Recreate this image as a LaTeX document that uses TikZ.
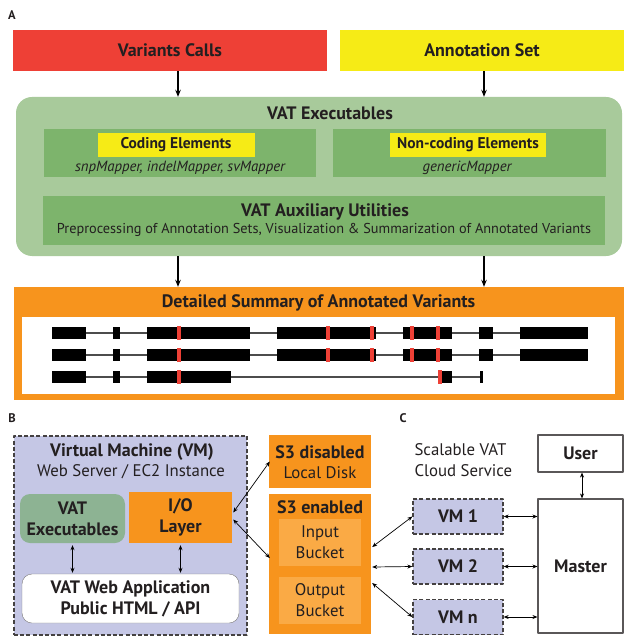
\documentclass[tikz,border=0pt]{standalone}
\usepackage{fontspec}
\setmainfont{PT Sans}
\usetikzlibrary{arrows.meta,calc}
\definecolor{vred}{HTML}{EE4036}
\definecolor{vyellow}{HTML}{F6EB16}
\definecolor{glight}{HTML}{A8CA9B}
\definecolor{gdark}{HTML}{7DB46C}
\definecolor{vorange}{HTML}{F7941D}
\definecolor{vorangel}{HTML}{FAAA45}
\definecolor{lav}{HTML}{C5C7E5}
\definecolor{ggray}{HTML}{8DB393}
\definecolor{ink}{HTML}{231F20}
\begin{document}
\begin{tikzpicture}[x=1pt,y=-1pt,>={Stealth[length=7pt,width=5.5pt]}, line join=round, text=ink,
  wh/.style 2 args={minimum width=#1pt,minimum height=#2pt,inner sep=0pt,align=center},
  bigb/.style={font=\fontsize{18}{21}\selectfont\bfseries},
  bigr/.style={font=\fontsize{16.8}{21}\selectfont},
  midb/.style={font=\fontsize{15.5}{17}\selectfont\bfseries},
  panel/.style={font=\fontsize{12.5}{14}\selectfont\bfseries},
  vmbox/.style={fill=lav,draw=ink!85,dashed,line width=1.3pt,dash pattern=on 4pt off 2.2pt},
  plain/.style={draw=ink!75,line width=1.1pt},
  dbl/.style={{Stealth[length=5pt,width=4pt]}-{Stealth[length=5pt,width=4pt]},line width=.7pt}]
\useasboundingbox (0,0) rectangle (624,636);
% A
\node[panel] (lblA) at (12,15) {A};
\node[wh={314}{41},fill=vred,bigb] (varcalls) at (170,50.5) {Variants Calls};
\node[wh={284}{41},fill=vyellow,bigb] (annot) at (482,50.5) {Annotation Set};
\node[wh={606}{159},fill=glight,rounded corners=16pt] (vatexe) at (319,176.5) {};
\node[bigb] (vattitle) at (330,113) {VAT Executables};
\node[wh={272}{48},fill=gdark] (coding) at (180,153) {};
\node[wh={157}{24},fill=vyellow,midb] (codinghl) at (176,145) {Coding Elements};
\node[font=\fontsize{14.8}{17}\selectfont\itshape] (codingsub) at (180,168) {snpMapper, indelMapper, svMapper};
\node[wh={273}{48},fill=gdark] (noncoding) at (469.5,153) {};
\node[wh={156}{24},fill=vyellow,midb] (noncodinghl) at (468,145) {Non-coding Elements};
\node[font=\fontsize{14.8}{17}\selectfont\itshape] (noncodingsub) at (467,168) {genericMapper};
\node[wh={562}{49},fill=gdark] (aux) at (324,220.5) {};
\node[bigb] (auxtitle) at (325,212) {VAT Auxiliary Utilities};
\node[font=\fontsize{14.3}{16}\selectfont] (auxsub) at (324,230) {Preprocessing of Annotation Sets, Visualization \& Summarization of Annotated Variants};
\node[wh={610}{113},fill=vorange] (summary) at (319,343.5) {};
\node[bigb] (sumtitle) at (318.5,303) {Detailed Summary of Annotated Variants};
\node[wh={593}{77},fill=white] (tracks) at (318.5,355.5) {};
\draw[->,line width=1.3pt] ([xshift=8pt]varcalls.south) -- ([xshift=8pt]varcalls.south |- vatexe.north);
\draw[->,line width=1.3pt] ([xshift=2pt]annot.south) -- ([xshift=2pt]annot.south |- vatexe.north);
\draw[->,line width=1.3pt] ([xshift=8pt]varcalls.south |- vatexe.south) -- ([xshift=8pt]varcalls.south |- summary.north);
\draw[->,line width=1.3pt] ([xshift=2pt]annot.south |- vatexe.south) -- ([xshift=2pt]annot.south |- summary.north);
% gene tracks
\foreach \r in {333,355}{
  \draw[black!70,line width=1.1pt] (52,\r) -- (588,\r);
  \foreach \a/\b in {52/86,113/120,147/250,277/376,403/452,479/493,520/588}
    \fill (\a,\r-6) rectangle (\b,\r+6);
  \foreach \m in {179,328,372,412,438}
    \fill[vred] (\m-2,\r-7) rectangle (\m+2,\r+7);
}
\draw[black!70,line width=1.1pt] (52,377) -- (481,377);
\foreach \a/\b in {52/86,113/120,147/231,438/452,480/482.5}
  \fill (\a,371) rectangle (\b,383);
\foreach \m in {179,440}
  \fill[vred] (\m-2,370) rectangle (\m+2,384);
% B
\node[panel] (lblB) at (12,418) {B};
\node[wh={233}{199},vmbox] (vm) at (130.5,535.5) {};
\node[bigb] (vmtitle) at (132,452) {Virtual Machine (VM)};
\node[bigr] (vmsub) at (131,472) {Web Server / EC2 Instance};
\node[wh={105}{49},fill=ggray,rounded corners=10pt,bigb] (vmexe) at (72.5,518.5) {VAT\\Executables};
\node[wh={103}{51},fill=vorange,bigb] (iolayer) at (180.5,517.5) {I/O\\Layer};
\node[wh={217}{49},fill=white,draw=ink!60,rounded corners=10pt,bigb] (webapp) at (130.5,598.5) {VAT Web Application\\Public HTML / API};
\draw[dbl] ([yshift=-2pt]vmexe.south) -- ([yshift=1pt]vmexe.south |- webapp.north);
\draw[dbl] ([yshift=-2pt]iolayer.south) -- ([yshift=1pt]iolayer.south |- webapp.north);
\node[wh={102}{53},fill=vorange] (s3dis) at (320,461.5) {};
\node[bigb] (s3distitle) at (320,452) {S3 disabled};
\node[bigr] (s3dissub) at (320,473) {Local Disk};
\node[wh={102}{140},fill=vorange] (s3en) at (320,564) {};
\node[bigb] (s3entitle) at (320,507) {S3 enabled};
\node[wh={82}{47},fill=vorangel,bigr] (inbucket) at (320,542.5) {Input\\Bucket};
\node[wh={82}{47},fill=vorangel,bigr] (outbucket) at (320,600.5) {Output\\Bucket};
\draw[dbl] ($(iolayer.east)+(1,-5)$) -- ($(s3dis.west)+(1,0)$);
\draw[dbl] ($(iolayer.east)+(1,2)$) -- ($(s3en.west)+(1,-6)$);
% C
\node[panel] (lblC) at (403,418) {C};
\node[bigr,anchor=west,align=left] (cloud) at (411,460) {Scalable VAT\\Cloud Service};
\node[wh={85}{37},fill=white,plain,bigb] (user) at (580.5,453.5) {User};
\node[wh={85}{134},fill=white,plain,bigb] (master) at (580.5,566) {Master};
\node[wh={90}{35},vmbox,bigb] (vm1) at (458,516.5) {VM 1};
\node[wh={90}{35},vmbox,bigb] (vm2) at (458,566.5) {VM 2};
\node[wh={90}{35},vmbox,bigb] (vmn) at (458,617) {VM n};
\draw[dbl] ([xshift=1.5pt]user.south) -- ([xshift=1.5pt]user.south |- master.north);
\foreach \v in {vm1,vm2,vmn}
  \draw[dbl] (\v.east) -- (\v.east -| master.west);
\draw[dbl] ($(s3en.east)+(1,-17)$) -- (vm1.west);
\draw[dbl] ($(s3en.east)+(1,3)$) -- (vm2.west);
\draw[dbl] ($(s3en.east)+(1,19)$) -- (vmn.west);
\end{tikzpicture}
\end{document}
